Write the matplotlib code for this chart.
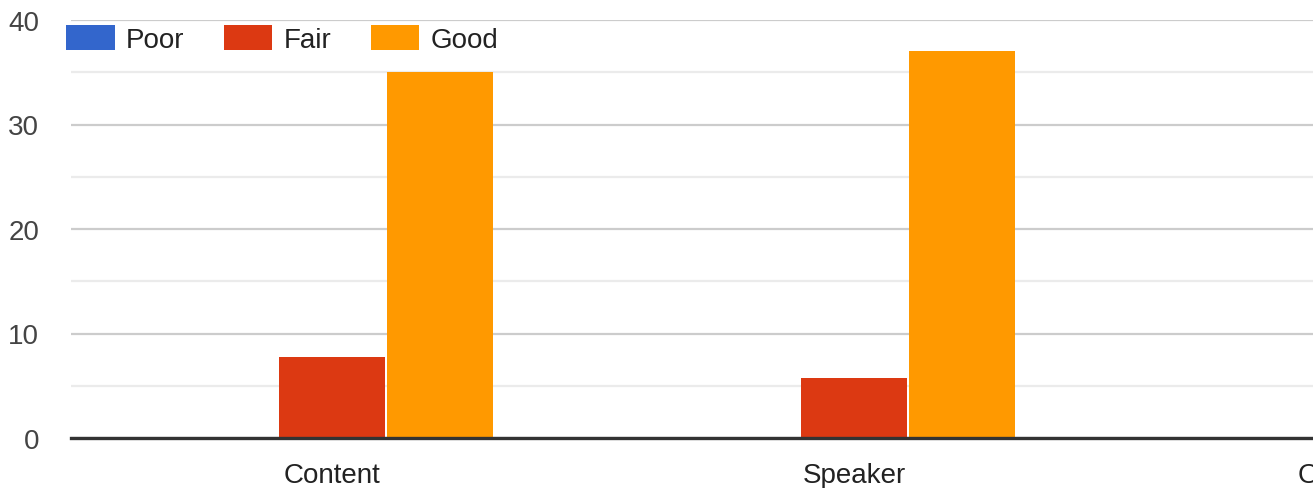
import numpy as np
import matplotlib
matplotlib.use('Agg')
from matplotlib import pyplot as plt
from matplotlib.patches import Patch

plt.rcParams['font.family'] = ['Liberation Sans', 'DejaVu Sans']

categories = ['Content', 'Speaker', 'Organization']
series = ['Poor', 'Fair', 'Good']
poor = [0, 0, 0]
fair = [7.75, 5.75, 0]
good = [35, 37, 0]
colors = ['#3366cc', '#dc3912', '#ff9900']

W, H = 1313, 489
fig = plt.figure(figsize=(W / 100, H / 100), dpi=100)
# plot area runs past the right edge, so the third group is cut off
ax = fig.add_axes([71 / W, 50 / H, 1566 / W, 418 / H])

x = np.arange(len(categories))
step = 108 / 522
width = 106 / 522
for i, (vals, c) in enumerate(zip([poor, fair, good], colors)):
    ax.bar(x + (i - 1) * step, vals, width=width, color=c, zorder=3)

ax.set_xlim(-0.5, 2.5)
ax.set_ylim(0, 40)
ax.set_yticks([0, 10, 20, 30, 40])
ax.set_yticks([5, 15, 25, 35], minor=True)
ax.grid(axis='y', which='major', color='#cccccc', linewidth=1.6, zorder=0)
ax.grid(axis='y', which='minor', color='#ebebeb', linewidth=1.6, zorder=0)
ax.axhline(0, color='#333333', linewidth=2.4, zorder=4, clip_on=False)

for s in ax.spines.values():
    s.set_visible(False)
ax.tick_params(axis='both', which='both', length=0)
ax.tick_params(axis='y', labelsize=20, labelcolor='#444444', pad=23)
ax.tick_params(axis='x', labelsize=20, labelcolor='#222222', pad=17)
ax.set_xticks(x)
ax.set_xticklabels(categories)

handles = [Patch(facecolor=c, label=s) for s, c in zip(series, colors)]
fig.legend(handles=handles, loc='center left', bbox_to_anchor=(41 / W, 1 - 40 / H),
           ncol=3, frameon=False, fontsize=20, handlelength=1.75, handleheight=1.0,
           handletextpad=0.4, columnspacing=1.42, labelcolor='#222222')

fig.savefig('out.png', dpi=100)
